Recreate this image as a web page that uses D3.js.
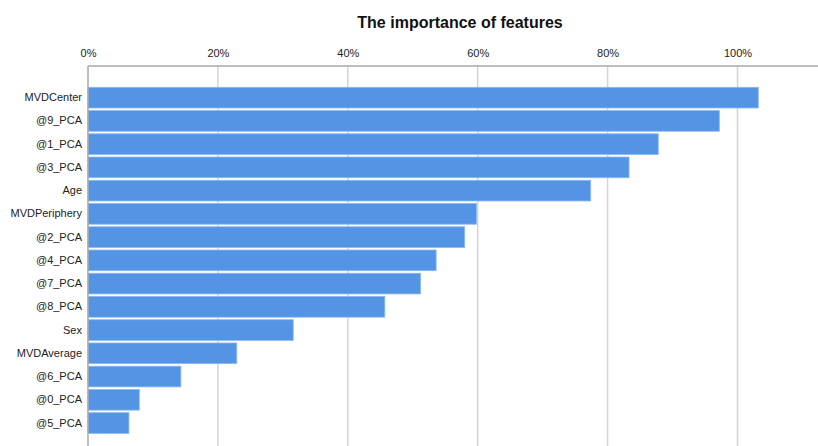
<!DOCTYPE html>
<html>
<head>
<meta charset="utf-8">
<script src="https://cdn.jsdelivr.net/npm/d3@7"></script>
<style>
  html, body { margin: 0; padding: 0; background: #fff; }
  svg { display: block; font-family: "Liberation Sans", Arial, sans-serif; }
</style>
</head>
<body>
<svg id="chart" width="818" height="446"></svg>
<script>
// Feature names, top to bottom
const features = ["MVDCenter", "@9_PCA", "@1_PCA", "@3_PCA", "Age", "MVDPeriphery",
  "@2_PCA", "@4_PCA", "@7_PCA", "@8_PCA", "Sex", "MVDAverage", "@6_PCA", "@0_PCA", "@5_PCA"];
// Relative importance (%)
const importance = [103.2, 97.2, 87.8, 83.3, 77.4, 59.8, 58.0, 53.6, 51.2, 45.7, 31.6, 22.9, 14.3, 7.9, 6.3];
// Axis tick values (%)
const tickValues = [0, 20, 40, 60, 80, 100];
const titleText = "The importance of features";

const svg = d3.select("#chart");
const W = 818, H = 446;
const plotLeft = 88, plotTop = 66;

const x = d3.scaleLinear().domain([0, 100]).range([plotLeft, 737.5]);
const y = d3.scaleBand().domain(features).range([75.7, 445]).paddingInner(0.11).paddingOuter(0.5);

// Title
svg.append("text")
  .attr("x", 460).attr("y", 28)
  .attr("text-anchor", "middle")
  .attr("font-size", 16).attr("font-weight", "bold")
  .attr("fill", "#111")
  .text(titleText);

// Vertical gridlines
svg.append("g").selectAll("line")
  .data(tickValues.filter(d => d > 0))
  .join("line")
  .attr("x1", d => x(d)).attr("x2", d => x(d))
  .attr("y1", plotTop).attr("y2", H)
  .attr("stroke", "#d4d4d4").attr("stroke-width", 1.5);

// Top axis
const xAxis = d3.axisTop(x).tickValues(tickValues).tickFormat(d => d + "%").tickSize(0).tickPadding(9);
const gx = svg.append("g").attr("transform", `translate(0,${plotTop})`).call(xAxis);
gx.select(".domain").remove();
gx.selectAll("text").attr("font-size", 11).attr("fill", "#222").attr("font-family", "Liberation Sans, Arial, sans-serif");
svg.append("line").attr("x1", plotLeft).attr("x2", W).attr("y1", plotTop).attr("y2", plotTop)
  .attr("stroke", "#a8a8a8").attr("stroke-width", 1.5);

// Bars
svg.append("g").selectAll("rect")
  .data(features.map((f, i) => ({ f, v: importance[i] })))
  .join("rect")
  .attr("x", x(0))
  .attr("y", d => y(d.f))
  .attr("width", d => x(d.v) - x(0))
  .attr("height", y.bandwidth())
  .attr("fill", "#5395e4")
  .attr("stroke", "#8cb8ef")
  .attr("stroke-width", 0.8);

// Left axis with category labels
const yAxis = d3.axisLeft(y).tickSize(0).tickPadding(6);
const gy = svg.append("g").attr("transform", `translate(${plotLeft},0)`).call(yAxis);
gy.select(".domain").remove();
gy.selectAll("text").attr("font-size", 11).attr("fill", "#222").attr("font-family", "Liberation Sans, Arial, sans-serif");
svg.append("line").attr("x1", plotLeft).attr("x2", plotLeft).attr("y1", plotTop).attr("y2", H)
  .attr("stroke", "#a8a8a8").attr("stroke-width", 1.5);
</script>
</body>
</html>
